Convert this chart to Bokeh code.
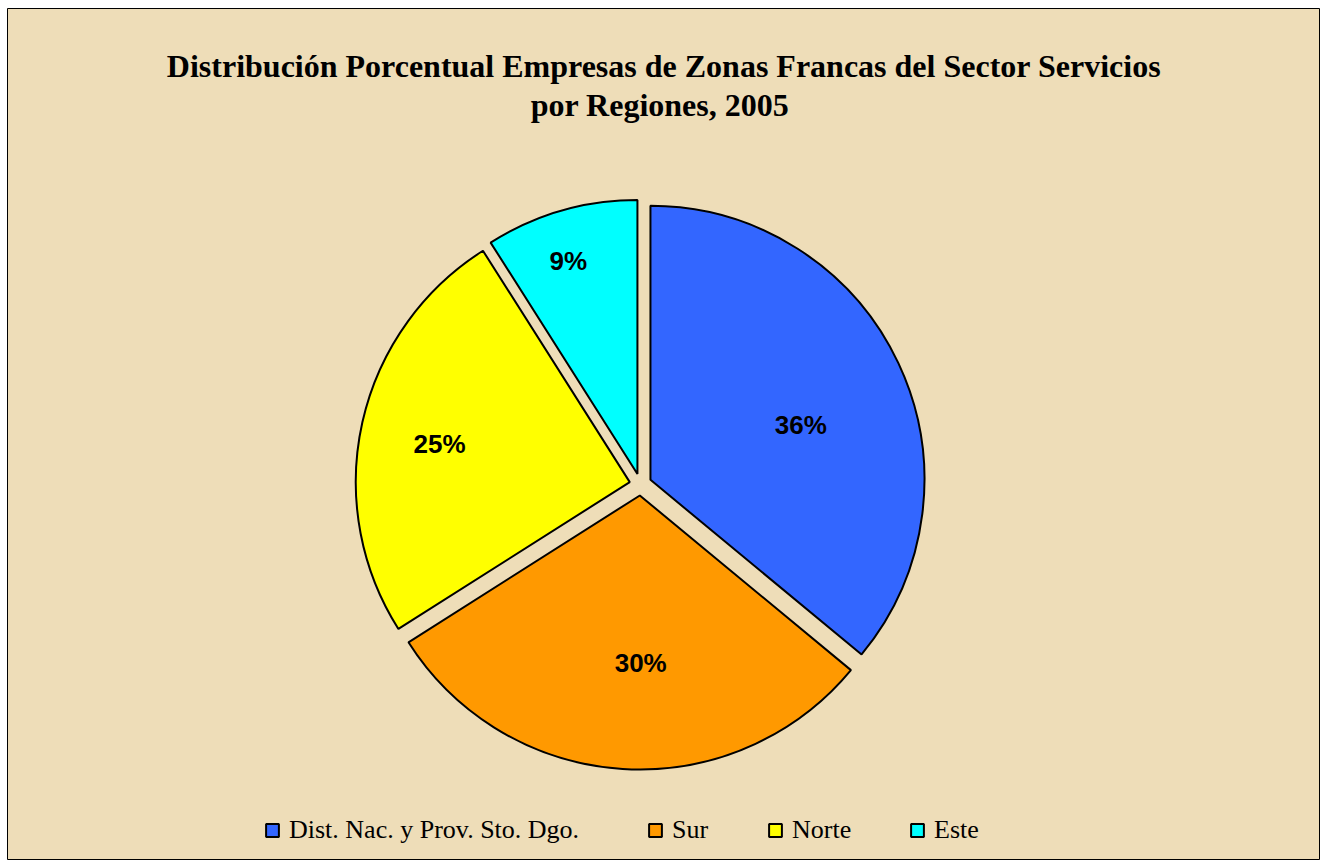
import numpy as np
from bokeh.plotting import figure
from bokeh.models import Range1d, Label, Legend, LegendItem, ColumnDataSource
from bokeh.core.properties import value
from bokeh.embed import file_html
from bokeh.resources import INLINE

# ---- data ----
regions = ["Dist. Nac. y Prov. Sto. Dgo.", "Sur", "Norte", "Este"]
shares = [36, 30, 25, 9]
colors = ["#3366FF", "#FF9900", "#FFFF00", "#00FFFF"]
title_lines = ["Distribución Porcentual Empresas de Zonas Francas del Sector Servicios",
               "por Regiones,  2005"]

# ---- layout / style ----
W, H = 1320, 860
LEFT, TOP = 7, 8          # white margin outside the chart border
CX, CY = 640, 484         # pie centre in page px
R = 274                   # pie radius in px
EXPLODE = 11              # explosion offset in px
label_frac = [0.584, 0.613, 0.708, 0.817]   # label distance (fraction of radius)
label_rot = [-5.2, 3.9, 1.3, 1.8]           # label angle tweak (deg)
BG = "#EEDDB8"

vals = np.array(shares, dtype=float)
frac = vals / vals.sum()
cum = np.concatenate([[0], np.cumsum(frac)])
start = np.deg2rad(90 - cum[:-1] * 360)
end = np.deg2rad(90 - cum[1:] * 360)
mid = (start + end) / 2
cx = EXPLODE * np.cos(mid)
cy = EXPLODE * np.sin(mid)
la = mid + np.deg2rad(label_rot)
lx = cx + np.array(label_frac) * R * np.cos(la)
ly = cy + np.array(label_frac) * R * np.sin(la)
labels = [f"{round(f*100):.0f}%" for f in frac]

src = ColumnDataSource(dict(x=cx, y=cy, start=start, end=end, color=colors,
                            region=regions, lx=lx, ly=ly, lab=labels))

p = figure(width=W, height=H, output_backend="svg", toolbar_location=None,
           x_range=Range1d(LEFT - CX, W - CX), y_range=Range1d(CY - H, CY - TOP),
           min_border_left=LEFT, min_border_top=TOP, min_border_right=0,
           min_border_bottom=0)
p.axis.visible = False
p.grid.visible = False
p.background_fill_color = BG
p.border_fill_color = "white"
p.outline_line_color = "black"
p.outline_line_width = 1

wr = p.wedge(x="x", y="y", radius=R, start_angle="start", end_angle="end",
             direction="clock", fill_color="color", line_color="black",
             line_width=2, source=src)

p.text(x="lx", y="ly", text="lab", source=src, text_align="center",
       text_baseline="middle", text_font=value("Liberation Sans"),
       text_font_style="bold", text_font_size="26px", text_color="black")

# title (page y of line centres)
for t, py in zip(title_lines, [65, 104]):
    p.add_layout(Label(x=663.5 - CX, y=CY - py, text=t,
                       text_align="center", text_baseline="middle",
                       text_font="Liberation Serif", text_font_style="bold",
                       text_font_size="32px", text_color="black"))

# legend (one per item so spacing matches)
leg_x = [264, 647, 767, 909]   # page x of legend squares
for i, xx in enumerate(leg_x):
    lg = Legend(items=[LegendItem(label=regions[i], renderers=[wr], index=i)],
                location=(xx - LEFT, 15), orientation="horizontal",
                glyph_width=16, glyph_height=16, label_standoff=9,
                padding=0, margin=0, border_line_color=None,
                background_fill_alpha=0, label_text_font="Liberation Serif",
                label_text_font_size="26px", label_text_color="black",
                label_height=28)
    p.add_layout(lg, "center")

open("out.html", "w").write(file_html(p, INLINE))
